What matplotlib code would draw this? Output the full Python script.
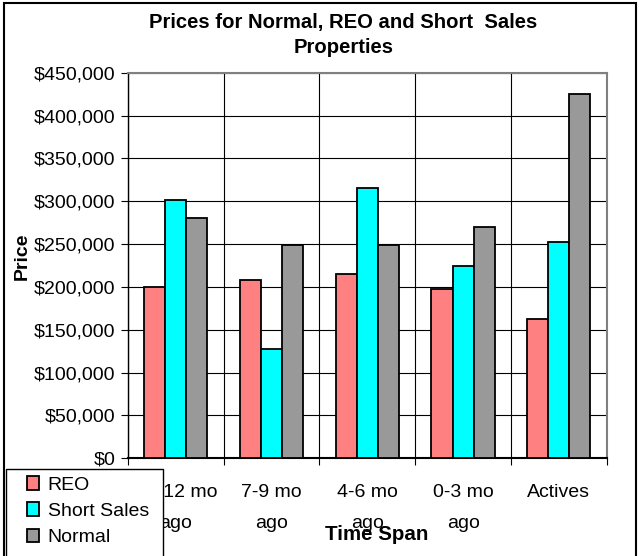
import numpy as np
import matplotlib
matplotlib.use('Agg')
import matplotlib.pyplot as plt
from matplotlib.patches import Rectangle
from matplotlib.ticker import FuncFormatter

plt.rcParams['font.family'] = ['Liberation Sans', 'DejaVu Sans']

# data
categories = ['10-12 mo\nago', '7-9 mo\nago', '4-6 mo\nago', '0-3 mo\nago', 'Actives']
reo = [200000, 207500, 215000, 197500, 162000]
short_sales = [302000, 128000, 316000, 224000, 253000]
normal = [280000, 249000, 249000, 270500, 425500]
series_names = ['REO', 'Short Sales', 'Normal']
colors = ['#FF8080', '#00FFFF', '#999999']

fig = plt.figure(figsize=(6.4, 5.56), dpi=100)
ax = fig.add_axes([128 / 640, 1 - 458.3 / 556, (606.7 - 128) / 640, (458.3 - 72.7) / 556])

x = np.arange(len(categories))
w = 0.22
handles = []
for k, vals in enumerate([reo, short_sales, normal]):
    b = ax.bar(x + (k - 1) * w, vals, w, color=colors[k], edgecolor='black',
               linewidth=1.3, label=series_names[k], zorder=3)
    handles.append(b)

ax.set_xlim(-0.5, len(categories) - 0.5)
ax.set_ylim(0, 450000)
ax.set_yticks(np.arange(0, 450001, 50000))
ax.yaxis.set_major_formatter(FuncFormatter(lambda v, p: '${:,.0f}'.format(v)))

# boundaries get ticks and grid, centres get labels
ax.set_xticks(np.arange(-0.5, len(categories), 1.0))
ax.set_xticklabels([])
ax.set_xticks(x, minor=True)
ax.set_xticklabels(categories, minor=True, fontsize=14, linespacing=2.05)
ax.tick_params(axis='x', which='minor', length=0, pad=18.5)
ax.tick_params(axis='x', which='major', length=5, direction='out')
ax.tick_params(axis='y', length=5, direction='out', labelsize=14, pad=4)

ax.grid(True, color='black', linewidth=0.8, zorder=0)
ax.set_axisbelow(True)
for s in ['top', 'right']:
    ax.spines[s].set_color('#808080')
    ax.spines[s].set_linewidth(1.5)
ax.spines['left'].set_linewidth(1.0)
ax.spines['bottom'].set_linewidth(1.5)

fig.text(343.5 / 640, 1 - 35 / 556, 'Prices for Normal, REO and Short  Sales\nProperties',
         ha='center', va='center', fontsize=14.6, fontweight='bold', linespacing=1.35)
fig.text(22 / 640, 1 - 256 / 556, 'Price', rotation=90, ha='center', va='center',
         fontsize=14, fontweight='bold')
fig.text(376.5 / 640, 1 - 535 / 556, 'Time Span', ha='center', va='center',
         fontsize=14.8, fontweight='bold')

# legend box drawn separately, it runs off the bottom of the image
fig.patches.append(Rectangle((6 / 640, -0.1), 157 / 640, 0.1 + 1 - 469 / 556,
                             transform=fig.transFigure, facecolor='white',
                             edgecolor='black', linewidth=1.0, zorder=5))
leg = fig.legend(handles=handles, loc='upper left', bbox_to_anchor=(27 / 640, 1 - 476 / 556),
                 fontsize=14, frameon=False, handlelength=0.62, handleheight=0.7,
                 handletextpad=0.45, labelspacing=0.45, borderpad=0, borderaxespad=0)
leg.set_zorder(6)

# outer chart border, open at the bottom edge of the image
fig.patches.append(Rectangle((4 / 640, -0.1), 632 / 640, 1.1 - 3 / 556, transform=fig.transFigure,
                             fill=False, edgecolor='black', linewidth=1.5))

fig.savefig('out.png', dpi=100)
